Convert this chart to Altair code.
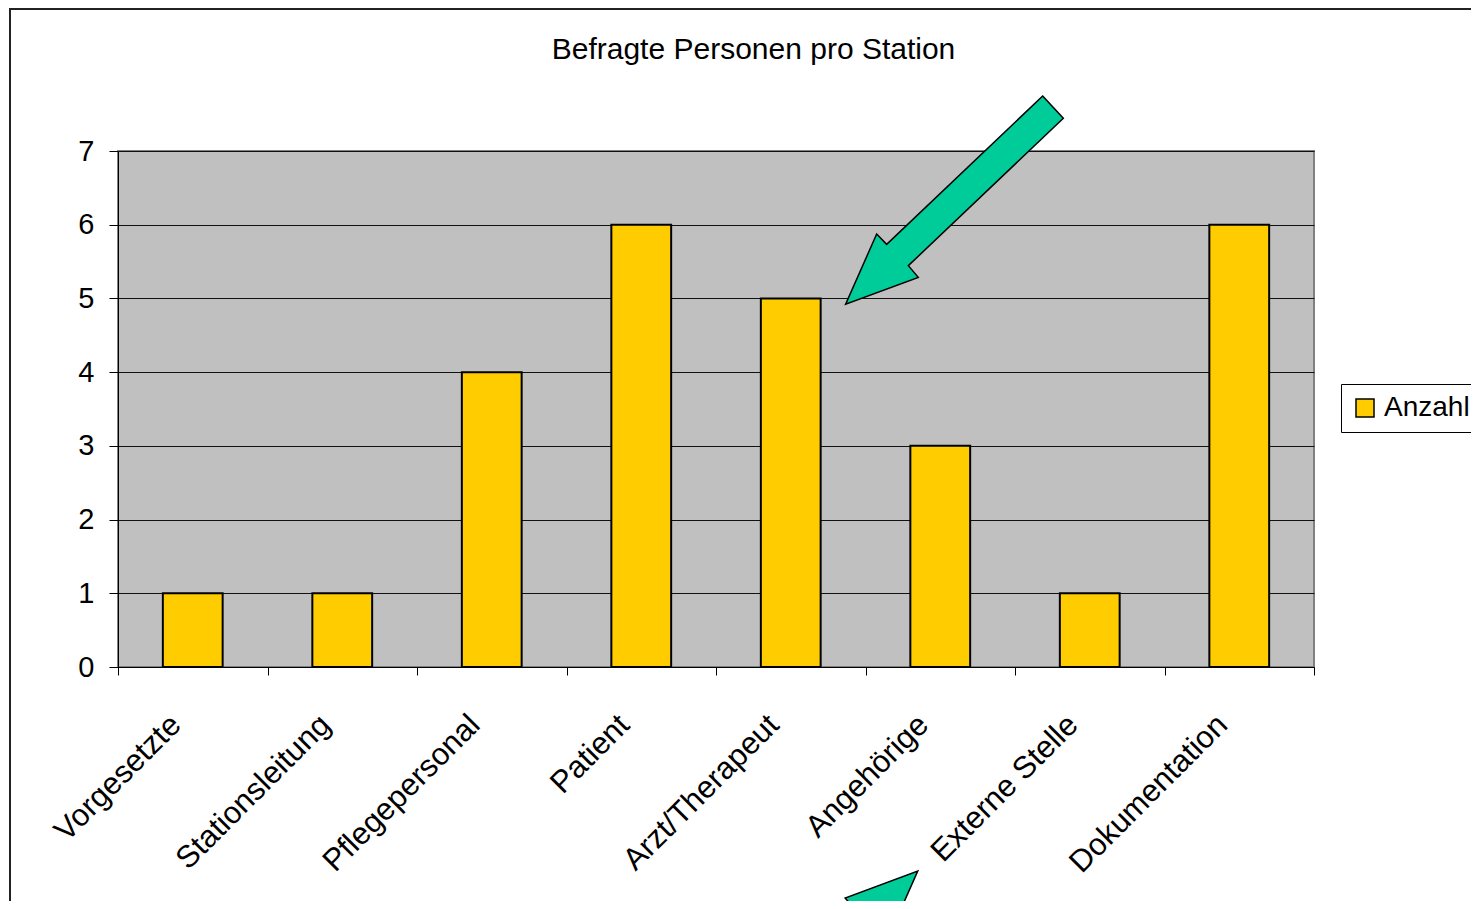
import altair as alt
import pandas as pd

categories = ["Vorgesetzte", "Stationsleitung", "Pflegepersonal", "Patient",
              "Arzt/Therapeut", "Angehörige", "Externe Stelle", "Dokumentation"]
values = [1, 1, 4, 6, 5, 3, 1, 6]
series = ["Anzahl"] * len(categories)
y_ticks = [0, 1, 2, 3, 4, 5, 6, 7]
title_text = "Befragte Personen pro Station"

FONT = "Liberation Sans, Arial, Helvetica, sans-serif"
W, H = 1196, 516
PAD_L, PAD_T = 110, 143
TOTAL_W, TOTAL_H = 1463, 893

df = pd.DataFrame({"Kategorie": categories, "Anzahl": values, "Serie": series})

bars = alt.Chart(df).mark_bar(
    width=alt.RelativeBandSize(0.4), stroke="black", strokeWidth=2, opacity=1
).encode(
    x=alt.X("Kategorie:N", sort=categories, title=None,
            scale=alt.Scale(paddingInner=0, paddingOuter=0),
            axis=alt.Axis(tickBand="extent", labelAngle=-45, labelAlign="right",
                          labelBaseline="middle", labelPadding=45, labelOffset=-17,
                          tickSize=8, tickColor="black", domainColor="black",
                          labelFontSize=31, labelFont=FONT, labelColor="black",
                          grid=False, labelOverlap=False, labelLimit=0)),
    y=alt.Y("Anzahl:Q", title=None,
            scale=alt.Scale(domain=[0, 7], nice=False),
            axis=alt.Axis(values=y_ticks, tickSize=9, tickColor="black",
                          domainColor="black", labelFontSize=29, labelFont=FONT,
                          labelColor="black", labelPadding=15, grid=True,
                          gridColor="#111111", gridWidth=1)),
    color=alt.Color("Serie:N", scale=alt.Scale(range=["#FFCC00"]),
                    legend=alt.Legend(title=None, orient="none", legendX=1223,
                                      legendY=233, strokeColor="black",
                                      fillColor="white", padding=10,
                                      symbolType="square", symbolSize=324,
                                      symbolStrokeColor="black",
                                      symbolStrokeWidth=1.5, symbolOpacity=1,
                                      labelFontSize=28, labelFont=FONT,
                                      labelColor="black", labelOffset=5)),
)

one = pd.DataFrame({"a": [0]})

# outer chart frame
frame = alt.Chart(one).mark_rect(filled=False, stroke="#222222", strokeWidth=2).encode(
    x=alt.value(10 - 118), x2=alt.value(3000),
    y=alt.value(9 - 151), y2=alt.value(3000),
)

title = alt.Chart(one).mark_text(
    text=title_text, font=FONT, fontSize=30, color="black",
    align="center", baseline="middle"
).encode(x=alt.value(753.5 - 118), y=alt.value(50 - 151))

# arrow annotation shape (page pixel vertices -> unit path)
arrow_pts = [(1042.7, 96), (1063.3, 118.3), (908.3, 265.7), (918.3, 277.3),
             (845.7, 304.3), (876.7, 234), (886.7, 244.3)]
cx, cy, S = 954.0, 200.0, 110.0


def make_path(sign):
    parts = []
    for i, (px, py) in enumerate(arrow_pts):
        ux = sign * (px - cx) / S
        uy = sign * (py - cy) / S
        parts.append(("M" if i == 0 else "L") + f"{ux:.3f},{uy:.3f}")
    return " ".join(parts) + " Z"


arrow1 = alt.Chart(one).mark_point(
    shape=make_path(1), size=(2 * S) ** 2, filled=True, fill="#00CC99",
    stroke="black", strokeWidth=1.5, opacity=1, fillOpacity=1, strokeOpacity=1
).encode(x=alt.value(cx - 118), y=alt.value(cy - 151))

tip2 = (917.7, 871.0)
c2x = tip2[0] - (cx - 845.7)
c2y = tip2[1] - (cy - 304.3)
arrow2 = alt.Chart(one).mark_point(
    shape=make_path(-1), size=(2 * S) ** 2, filled=True, fill="#00CC99",
    stroke="black", strokeWidth=1.5, opacity=1, fillOpacity=1, strokeOpacity=1
).encode(x=alt.value(c2x - 118), y=alt.value(c2y - 151))

chart = alt.layer(frame, bars, title, arrow1, arrow2).properties(
    width=W, height=H,
    autosize=alt.AutoSizeParams(type="none"),
    padding={"left": PAD_L, "top": PAD_T, "right": TOTAL_W - PAD_L - W,
             "bottom": TOTAL_H - PAD_T - H},
    background="white",
).configure_view(
    fill="#C0C0C0", stroke="#808080", strokeWidth=2
)

chart.save("out.html", embed_options={"renderer": "svg", "actions": False})
